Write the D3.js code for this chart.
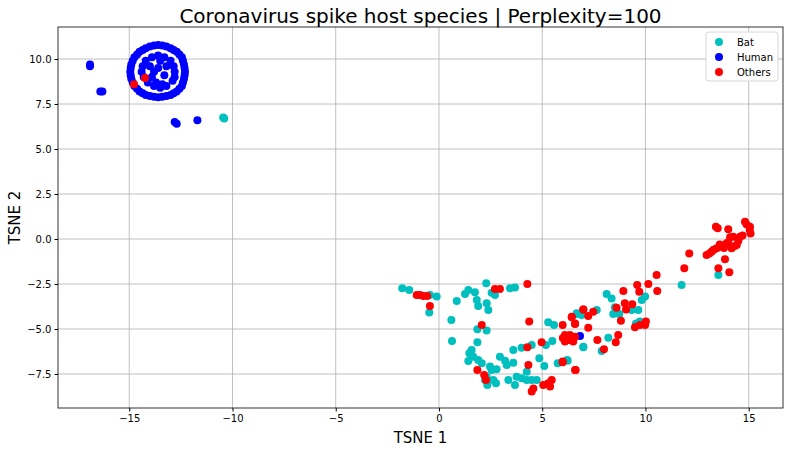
<!DOCTYPE html>
<html><head><meta charset="utf-8">
<script src="https://cdn.jsdelivr.net/npm/d3@7"></script>
<style>body{margin:0;background:#fff;font-family:"DejaVu Sans",sans-serif;}</style>
</head><body><div id="chart"></div>
<script>
var width = 790, height = 451;
var margin = {top: 27, right: 7, bottom: 43, left: 58};
var xTicks = [-15, -10, -5, 0, 5, 10, 15];
var yTicks = [-7.5, -5, -2.5, 0, 2.5, 5, 7.5, 10];

var bat = [[-10.4,6.7],[-10.45,6.75],[-1.78,-2.74],[-1.44,-2.83],[-0.44,-3.11],[-0.11,-3.2],[-0.47,-4.09],[0.6,-4.5],[0.63,-5.67],
  [0.86,-3.44],[1.26,-3.06],[1.42,-2.83],[1.74,-2.96],[1.9,-3.72],[1.83,-3.39],[2.29,-2.46],[2.31,-3.57],[2.39,-3.94],[2.55,-2.98],
  [2.71,-3.11],[3.44,-2.74],[3.68,-2.69],[1.86,-5.02],[2.31,-5.09],[1.86,-5.74],[1.58,-6.17],[1.47,-6.35],[1.66,-6.54],[1.42,-6.78],
  [1.9,-6.72],[2.07,-6.91],[2.47,-7.09],[2.55,-7.28],[2.79,-7.24],[2.31,-7.65],[2.23,-7.83],[2.34,-8.11],[2.63,-7.83],[2.76,-8.02],
  [2.95,-6.54],[3.2,-6.76],[3.28,-7.0],[3.6,-6.87],[3.36,-7.83],[3.68,-8.11],[3.76,-7.65],[4.0,-7.74],[4.25,-7.37],[4.25,-7.83],
  [4.49,-7.83],[4.73,-7.83],[3.6,-6.17],[4.0,-6.04],[4.49,-5.89],[4.86,-6.63],[5.1,-7.06],[5.18,-5.89],[5.49,-5.67],[5.29,-4.63],
  [5.57,-4.78],[5.75,-6.91],[6.23,-6.76],[6.99,-6.02],[6.67,-4.13],[6.91,-4.22],[13.53,-2.0],[11.75,-2.56],[8.12,-3.06],[8.36,-3.3],
  [8.52,-3.79],[8.44,-4.17],[8.73,-4.17],[9.33,-3.94],[9.65,-3.94],[9.82,-3.39],[9.98,-3.2],[9.73,-4.59],[9.54,-4.69],[7.64,-3.94],
  [6.67,-4.17],[8.2,-5.48],[6.99,-5.98],[7.88,-6.22],[6.21,-6.72]];
var human = [[-12.3,9.3],[-12.35,9.7],[-12.45,10.1],[-12.7,10.4],[-13.0,10.6],[-13.4,10.75],[-13.8,10.75],[-14.2,10.6],[-14.5,10.4],
  [-14.75,10.1],[-14.9,9.7],[-14.95,9.3],[-14.9,8.9],[-14.75,8.5],[-14.5,8.2],[-14.2,8.0],[-13.8,7.9],[-13.4,7.9],[-13.0,8.0],
  [-12.7,8.2],[-12.45,8.5],[-12.35,8.9],[-12.32,9.5],[-12.4,9.9],[-12.57,10.25],[-12.85,10.5],[-13.2,10.7],[-13.6,10.78],
  [-14.0,10.7],[-14.35,10.5],[-14.62,10.25],[-14.83,9.9],[-14.93,9.5],[-14.93,9.1],[-14.83,8.7],[-14.62,8.35],[-14.35,8.1],
  [-14.0,7.95],[-13.6,7.88],[-13.2,7.95],[-12.85,8.1],[-12.57,8.35],[-12.4,8.7],[-12.32,9.1],
  [-12.8,9.3],[-13.0,9.9],[-13.6,10.2],[-14.2,9.9],[-14.4,9.3],[-14.1,8.7],[-13.5,8.4],[-12.9,8.8],
  [-12.85,9.6],[-13.3,10.1],[-13.9,10.1],[-14.35,9.6],[-14.3,9.0],[-13.8,8.5],[-13.2,8.5],[-12.8,9.0],
  [-13.6,9.5],[-13.3,9.1],[-13.9,9.0],[-13.7,8.7],[-13.2,9.6],[-14.0,9.6],[-13.5,9.9],[-13.4,8.6],[-13.8,9.3],
  [-16.9,9.7],[-16.9,9.6],[-16.4,8.2],[-16.3,8.2],[-12.8,6.5],[-12.7,6.4],[-11.7,6.6],[6.83,-5.39]];
var others = [[-14.24,8.95],[-14.77,8.6],[-1.08,-3.11],[-0.92,-3.11],[-0.76,-3.17],[-0.57,-3.17],[-0.44,-3.72],[2.07,-4.78],
  [2.71,-2.78],[2.95,-2.78],[4.28,-2.5],[4.37,-4.59],[4.28,-6.02],[4.97,-5.74],[4.33,-7.0],[5.99,-6.81],[6.62,-7.28],[1.86,-7.28],
  [2.19,-7.56],[2.28,-7.83],[4.57,-8.3],[4.49,-8.48],[5.05,-8.11],[5.29,-8.02],[5.46,-7.83],[5.38,-8.2],[5.99,-4.78],[6.43,-4.32],
  [6.59,-4.69],[6.99,-3.91],[6.1,-5.33],[6.26,-5.61],[6.5,-5.7],[6.34,-5.33],[6.59,-5.43],[6.1,-5.7],[6.2,-5.45],[6.4,-5.6],[6.0,-5.5],
  [14.82,0.96],[15.06,0.68],[15.09,0.31],[13.41,0.68],[14.01,0.54],[14.25,0.13],[14.58,0.13],[13.93,-0.24],[13.69,-0.43],[13.45,-0.52],
  [13.21,-0.7],[12.96,-0.89],[14.17,-0.52],[14.42,-0.33],[13.85,-1.13],[14.06,-1.85],[13.53,-1.63],[13.6,-0.3],[13.8,-0.5],[14.0,-0.2],
  [14.3,-0.4],[14.5,-0.1],[14.7,0.2],[13.3,-0.6],[13.1,-0.8],[14.1,0.1],[13.5,0.6],[14.9,0.8],[15.05,0.5],[12.12,-0.8],[11.88,-1.63],
  [10.54,-2.0],[10.57,-2.89],[10.14,-2.5],[9.6,-2.56],[9.7,-2.93],[8.93,-2.89],[9.0,-3.57],[9.36,-3.63],[8.6,-3.82],[9.06,-3.91],[8.81,-4.54],
  [9.49,-4.91],[9.73,-4.78],[10.02,-4.59],[9.98,-4.78],[7.47,-4.04],[7.23,-4.28],[6.99,-3.91],[6.43,-4.35],[6.59,-4.72],[7.23,-4.93],
  [7.67,-5.61],[8.68,-5.33],[8.56,-5.74],[7.99,-6.13],[5.99,-6.85],[6.59,-7.28]];

var series = [{name: "Bat", color: "#00bfbf", pts: bat},
              {name: "Human", color: "#0000ff", pts: human},
              {name: "Others", color: "#ff0000", pts: others}];

var svg = d3.select("#chart").append("svg").attr("width", width).attr("height", height);
var x = d3.scaleLinear().domain([-18.45, 16.66]).range([margin.left, width - margin.right]);
var y = d3.scaleLinear().domain([-9.39, 11.78]).range([height - margin.bottom, margin.top]);

// grid
svg.append("g").selectAll("line").data(xTicks).enter().append("line")
  .attr("x1", d => x(d)).attr("x2", d => x(d)).attr("y1", margin.top).attr("y2", height - margin.bottom)
  .attr("stroke", "#b0b0b0").attr("stroke-width", 0.8);
svg.append("g").selectAll("line").data(yTicks).enter().append("line")
  .attr("y1", d => y(d)).attr("y2", d => y(d)).attr("x1", margin.left).attr("x2", width - margin.right)
  .attr("stroke", "#b0b0b0").attr("stroke-width", 0.8);

// points
series.forEach(function(s) {
  svg.append("g").selectAll("circle").data(s.pts).enter().append("circle")
    .attr("cx", d => x(d[0])).attr("cy", d => y(d[1])).attr("r", 4).attr("fill", s.color);
});

// axes
var xAxis = svg.append("g").attr("transform", "translate(0," + (height - margin.bottom) + ")")
  .call(d3.axisBottom(x).tickValues(xTicks).tickSize(3.5).tickFormat(d3.format("d")));
var yAxis = svg.append("g").attr("transform", "translate(" + margin.left + ",0)")
  .call(d3.axisLeft(y).tickValues(yTicks).tickSize(3.5).tickFormat(d3.format(".1f")));
[xAxis, yAxis].forEach(a => { a.selectAll("text").attr("font-size", 10).attr("font-family", "DejaVu Sans").attr("fill", "#000"); a.select(".domain").remove(); });
xAxis.selectAll("text").text(d => d < 0 ? "\u2212" + (-d) : d);
yAxis.selectAll("text").text(d => d < 0 ? "\u2212" + d3.format(".1f")(-d) : d3.format(".1f")(d));

svg.append("rect").attr("x", margin.left).attr("y", margin.top)
  .attr("width", width - margin.left - margin.right).attr("height", height - margin.top - margin.bottom)
  .attr("fill", "none").attr("stroke", "#000").attr("stroke-width", 0.8);

svg.append("text").attr("x", (margin.left + width - margin.right) / 2).attr("y", 23).attr("text-anchor", "middle")
  .attr("font-size", 20).text("Coronavirus spike host species | Perplexity=100");
svg.append("text").attr("x", (margin.left + width - margin.right) / 2).attr("y", 443).attr("text-anchor", "middle")
  .attr("font-size", 15).text("TSNE 1");
svg.append("text").attr("transform", "translate(20," + ((margin.top + height - margin.bottom) / 2) + ") rotate(-90)")
  .attr("text-anchor", "middle").attr("font-size", 15).text("TSNE 2");

// legend
var lg = svg.append("g").attr("transform", "translate(706,32)");
lg.append("rect").attr("width", 72).attr("height", 49).attr("rx", 3).attr("fill", "#fff")
  .attr("stroke", "#ccc").attr("stroke-width", 0.8);
series.forEach(function(s, i) {
  lg.append("circle").attr("cx", 13).attr("cy", 10 + i * 15).attr("r", 4).attr("fill", s.color);
  lg.append("text").attr("x", 31).attr("y", 14 + i * 15).attr("font-size", 10).text(s.name);
});
</script></body></html>
